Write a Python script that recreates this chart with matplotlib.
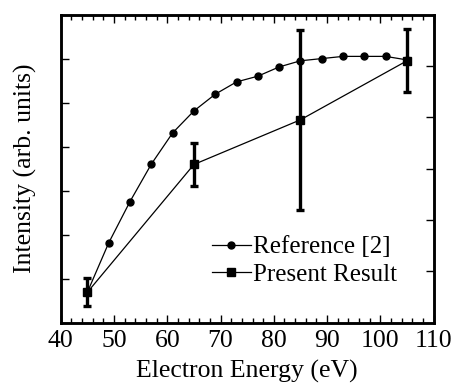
import matplotlib
matplotlib.use("Agg")
import matplotlib.pyplot as plt
from matplotlib.ticker import MultipleLocator

plt.rcParams["font.family"] = ["Liberation Serif", "DejaVu Serif"]

# Reference [2] curve (left axis, arbitrary units)
ref_energy = [45, 49, 53, 57, 61, 65, 69, 73, 77, 81, 85, 89, 93, 97, 101, 105]
ref_intensity = [0.69, 1.81, 2.75, 3.60, 4.31, 4.81, 5.19, 5.47, 5.60, 5.81,
                 5.95, 6.00, 6.05, 6.05, 6.05, 5.97]

# Present result (right axis, arbitrary units)
res_energy = [45, 65, 85, 105]
res_intensity = [0.59, 3.08, 3.95, 5.10]
res_error = [0.27, 0.41, 1.75, 0.61]

fig = plt.figure(figsize=(4.55, 3.84), dpi=100)
ax = fig.add_axes([0.1335, 0.160, 0.8195, 0.802])
ax2 = ax.twinx()

(ref_line,) = ax.plot(ref_energy, ref_intensity, "o-", color="black",
                      ms=5, lw=0.9, label="Reference [2]")

ax2.errorbar(res_energy, res_intensity, yerr=res_error, fmt="none",
             ecolor="black", elinewidth=2.4, capsize=3.2, capthick=2.4)
(res_line,) = ax2.plot(res_energy, res_intensity, "s-", color="black",
                       ms=5.5, lw=0.9, label="Present Result")

ax.set_xlim(40, 110)
ax.set_ylim(0, 7)
ax2.set_ylim(0, 6)

ax.xaxis.set_major_locator(MultipleLocator(10))
ax.xaxis.set_minor_locator(MultipleLocator(2))
ax.set_yticks([1, 2, 3, 4, 5, 6])
ax2.set_yticks([1, 2, 3, 4, 5])
ax.set_yticklabels([])
ax2.set_yticklabels([])

ax.tick_params(axis="x", which="both", direction="in", top=True, labelsize=18.5, pad=5)
ax.tick_params(axis="x", which="major", length=5.5, width=1)
ax.tick_params(axis="x", which="minor", length=3.5, width=1)
ax.tick_params(axis="y", which="both", direction="in", right=False, length=5.5, width=1)
ax2.tick_params(axis="y", which="both", direction="in", length=5.5, width=1)

for a in (ax, ax2):
    for spine in a.spines.values():
        spine.set_linewidth(1.8)

ax.set_xlabel("Electron Energy (eV)", fontsize=18.5, labelpad=6)
ax.set_ylabel("Intensity (arb. units)", fontsize=18.5, labelpad=13.5)

ax2.legend(handles=[ref_line, res_line], loc="center left",
           bbox_to_anchor=(0.345, 0.20), frameon=False, fontsize=18,
           handlelength=1.55, handletextpad=0.1, labelspacing=0.2)

fig.savefig("out.png", dpi=100)
